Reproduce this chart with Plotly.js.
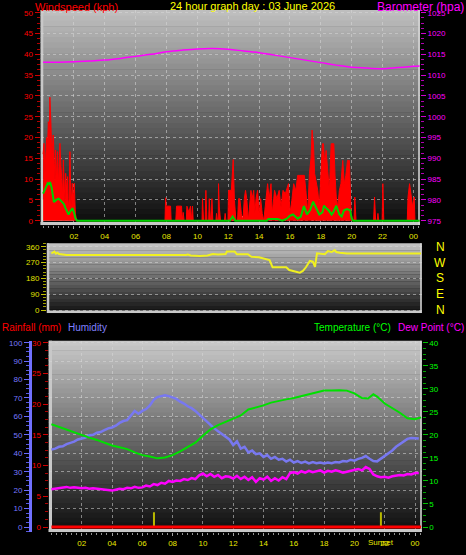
<!DOCTYPE html>
<html><head><meta charset="utf-8">
<script src="https://cdn.plot.ly/plotly-3.0.1.min.js"></script>
<style>html,body{margin:0;padding:0;background:#000;}#chart{width:466px;height:555px;}</style>
</head><body><div id="chart"></div>
<script>
// ---------- DATA ----------
const tickHours = [2,4,6,8,10,12,14,16,18,20,22,24];
const tickLabels = ['02','04','06','08','10','12','14','16','18','20','22','00'];

// Gust (kph)
const gustH = [0.0,0.06,0.12,0.18,0.23,0.29,0.34,0.40,0.44,0.51,0.56,0.60,0.66,0.73,0.77,0.81,0.88,0.94,0.98,1.03,1.09,1.16,1.22,1.27,1.31,1.37,1.42,1.46,1.52,1.59,1.63,1.68,1.74,1.81,1.89,1.96,2.02,2.09,2.17,
 7.90,7.94,7.98,8.26,8.30,8.60,8.65,8.97,9.02,9.08,9.14,9.28,9.32,9.45,9.55,9.62,9.68,9.73,
 10.30,10.33,10.40,10.50,10.55,10.62,10.73,10.77,10.85,10.90,10.94,11.0,11.2,11.24,11.3,11.35,11.37,11.42,11.5,11.75,11.8,11.85,11.98,
 12.02,12.1,12.2,12.32,12.4,12.5,12.6,12.67,12.75,12.85,12.95,13.04,13.12,13.2,13.3,13.47,13.55,13.65,13.72,13.8,13.9,14.0,14.1,14.2,14.3,
 14.55,14.65,14.77,14.85,15.0,15.15,15.3,15.42,15.55,15.7,15.9,16.0,16.12,16.24,16.38,16.5,16.6,16.7,16.8,16.93,17.03,17.15,17.26,17.37,17.43,17.52,17.6,17.7,17.8,17.9,
 18.0,18.1,18.17,18.25,18.34,18.45,18.55,18.67,18.77,18.84,18.92,19.0,19.1,19.2,19.3,19.42,19.52,19.62,19.73,19.85,19.96,20.07,20.15,20.2,20.28,
 21.42,21.48,21.55,21.65,21.7,21.75,21.97,22.02,22.08,23.6,23.65,23.75,23.85,23.95,24.05,24.1,24.4];
const gustV = [16,18.6,11.4,17,20,18,23.8,20,29.7,23,15,17.8,20.6,13.8,9,17,9.8,16.6,8,13,18.6,13,9.8,6,14.6,7.4,4,11.4,7.4,10.6,3,5,16.6,3.4,9,5,9,1.8,0,
 0,5.5,3.5,3.5,0,0,3.5,3.5,0,2,0,0,3.5,2,3.5,0,3.5,0,
 0,5.3,0,0,7.3,0,0,5.3,0,0,5.3,0,0,1.75,0,0,8.9,3.3,0,0,1.75,0,0,
 7.3,7.3,7.3,14.7,4.9,0,0,5.3,5.3,1.75,0,5.3,7.3,5.3,0,7.3,5.3,7.3,1.75,5.3,7.3,1.75,5.3,1.75,0,
 8.9,5.3,8.9,1.75,7.3,5.3,7.3,3.3,7.3,6.5,8.9,1.75,4.9,8.9,7.3,10.9,10.9,10.9,10.9,10.9,7.3,1.75,11.3,15.3,21.8,18.5,11.3,9.7,7.3,3.3,
 9.7,18.5,18.5,13.7,16.9,10.9,7.3,18.5,18.5,18.5,10.9,5.7,3.3,7.3,8.9,14.5,8.9,10.9,14.5,14.5,1.75,0,0,5.7,0,
 0,5.7,0,0,1.75,0,0,8.9,0,0,5.7,8.9,5.7,3.3,5.7,0,0];

// Average wind speed (kph)
const avgH = [0,0.1,0.2,0.3,0.4,0.45,0.55,0.62,0.7,0.85,1.0,1.1,1.2,1.35,1.45,1.55,1.65,1.75,1.9,2.0,2.1,2.2,12.1,12.28,12.45,14.5,14.6,15.2,15.5,15.8,16.0,16.2,16.5,16.7,16.9,17.1,17.3,17.5,17.7,17.9,18.1,18.2,18.35,18.5,18.7,18.8,19.0,19.2,19.35,19.5,19.7,19.9,20.0,20.1,24.4];
const avgV = [6.5,7.5,8.5,9.0,8.8,9.3,8.0,6.0,4.5,5.0,5.3,5.0,4.6,4.0,3.0,2.0,1.5,2.2,3.0,2.0,0.5,0,0,1.0,0,0,0.4,0.4,0,0.5,1.2,1.5,0.5,1.0,3.5,1.5,2.5,4.6,3.0,1.5,2.0,3.6,3.0,2.5,1.5,2.0,3.6,1.5,1.0,2.5,2.8,2.5,0.5,0,0];

// Wind speed (kph) bars
const wsH = [0,0.083,0.167,0.25,0.333,0.417,0.5,0.583,0.667,0.75,0.833,0.917,1.0,1.083,1.167,1.25,1.333,1.417,1.5,1.583,1.667,1.75,1.833,1.917,12.28,12.9,14.0,15.7,16.5,16.78,17.47,17.7,18.17,18.45,18.9,19.2,19.65];
const wsV = [5,5,5,5,5,5,5,3.2,3.2,5,3.2,3.2,3.2,3.2,1.6,3.2,1.6,1.6,1.6,1.6,3.2,1.6,1.6,1.6,1.1,1.1,1.1,1.1,2.9,4.8,2.9,1.1,4.8,2.9,2.9,1.1,1.1];

// Barometer (hPa)
const baroH = [0,1,2,3,4,5,6,7,8,9,10,11,12,13,14,15,16,17,18,19,20,21,22,23,24,24.4];
const baroV = [1013.1,1013.1,1013.2,1013.4,1013.6,1014.0,1014.5,1015.0,1015.6,1016.0,1016.3,1016.4,1016.2,1015.8,1015.4,1014.8,1014.2,1013.6,1013.0,1012.4,1011.9,1011.7,1011.5,1011.8,1012.1,1012.2];

// Wind direction (deg)
const dirH = [0.0,0.1,0.2,0.3,0.4,0.5,0.7,1.0,8.9,9.0,9.2,9.8,10.3,10.65,11.0,11.5,11.58,12.1,12.24,12.97,13.2,13.7,14.4,14.6,15.5,15.7,16.4,16.6,16.8,17.06,17.26,17.4,17.53,18.05,18.25,18.5,18.7,18.8,19.04,19.5,24.4];
const dirV = [322,326,332,320,326,318,315,313,313,315,310,307,310,318,316,318,332,332,317,317,303,300,284,243,243,227,212,222,243,279,275,246,322,317,335,330,341,330,326,322,322];

// Humidity (%) every 15 min
const humH = [0,0.25,0.5,0.75,1,1.25,1.5,1.75,2,2.25,2.5,2.75,3,3.25,3.5,3.75,4,4.25,4.5,4.75,5,5.25,5.5,5.75,6,6.25,6.5,6.75,7,7.25,7.5,7.75,8,8.25,8.5,8.75,9,9.25,9.5,9.75,10,10.25,10.5,10.75,11,11.25,11.5,11.75,12,12.25,12.5,12.75,13,13.25,13.5,13.75,14,14.25,14.5,14.75,15,15.25,15.5,15.75,16,16.25,16.5,16.75,17,17.25,17.5,17.75,18,18.25,18.5,18.75,19,19.25,19.5,19.75,20,20.25,20.5,20.75,21,21.25,21.5,21.75,22,22.25,22.5,22.75,23,23.25,23.5,23.75,24,24.25];
const humV = [42,42.5,43.5,43.8,45,45.5,46.3,47.5,48,48.5,49.8,50,51.2,51.5,52.5,53.5,54,55,56.5,57.5,58,60.5,63,61.5,63,64,66,69,70.5,71,71.5,71,70.2,69.5,68,67,65.5,64.5,63,61,59,57,55.5,53.5,52,50.5,48.5,47.5,44.5,46.5,42.5,43.5,40.5,41.5,39.5,40,38,39,37,38,36.5,37,35.5,36.5,35,35.8,34.8,35.5,34.5,35.2,34.6,35,34.5,35,34.6,35.2,35,35.8,35.5,36.5,36,37,37.5,38.5,37,35.8,35.6,37,38.5,40,41.5,43.5,45,46.5,47.8,48.3,48,48];

// Temperature (°C)
const tempH = [0,0.5,1,1.5,2,2.5,3,3.5,4,4.5,5,5.5,6,6.5,7,7.5,8,8.5,9,9.5,10,10.5,11,11.5,12,12.5,13,13.5,14,14.5,15,15.5,16,16.5,17,17.5,18,18.5,19,19.5,20,20.5,20.9,21.25,21.5,22,22.5,23,23.5,24,24.4];
const tempV = [22.3,21.7,21.1,20.6,20.0,19.4,18.9,18.3,17.7,17.3,16.9,16.2,15.6,15.3,14.9,15.1,15.6,16.4,17.4,18.3,19.8,21.2,22.1,22.8,23.5,24.2,25.5,25.9,26.4,27.0,27.4,27.7,28.0,28.4,28.9,29.3,29.6,29.6,29.7,29.6,29.0,28.0,27.9,28.8,28.3,26.8,25.8,24.8,23.6,23.4,23.8];

// Dew point (°C) every 15 min
const dewV = [8.2,8.3,8.5,8.6,8.7,8.5,8.6,8.5,8.4,8.5,8.3,8.4,8.3,8.2,8.1,8.0,7.9,8.1,8.3,8.2,8.5,8.4,8.7,8.5,8.6,9.0,8.8,9.3,9.1,9.6,9.4,10.0,9.8,10.1,10.0,10.4,10.2,10.6,10.4,11.2,11.6,11.0,11.5,10.9,11.3,10.6,11.0,10.9,10.5,11.1,10.4,10.9,10.2,10.8,9.8,10.6,10.3,10.9,10.0,10.6,10.1,10.8,10.4,11.7,11.9,11.6,12.1,11.8,12.2,11.9,12.1,12.3,11.8,12.2,12.0,12.3,12.1,11.8,12.0,12.2,12.4,12.6,12.3,13.0,12.6,11.4,11.0,10.8,10.9,10.7,11.0,11.1,11.3,11.2,11.5,11.4,11.7,11.7];

// Rainfall (mm) hourly
const rainH = [0,1,2,3,4,5,6,7,8,9,10,11,12,13,14,15,16,17,18,19,20,21,22,23,24,24.4];
const rainV = [0,0,0,0,0,0,0,0,0,0,0,0,0,0,0,0,0,0,0,0,0,0,0,0,0,0];

// Sunrise / sunset markers (hours)
const sunH = [6.77, 21.75];
const sunMarkHeight = 8;

const dirTickVals = [0,90,180,270,360];
const dirTickText = ['N','E','S','W','N'];

// ---------- LAYOUT HELPERS ----------
const W = 466, H = 555;
const px = v => v / W;
const py = v => 1 - v / H;
const FONT = 'Liberation Sans, Arial, sans-serif';

function gradient(xref, yref, top, bottom, n) {
  const out = [];
  for (let k = 0; k < n; k++) {
    const t = k / (n - 1);
    const g = Math.round(top + (bottom - top) * t);
    out.push({type:'rect', xref, yref, x0:0, x1:1, y0:1-(k+1)/n-0.003, y1:1-k/n,
      fillcolor:`rgb(${g},${g},${g})`, line:{width:0}, layer:'below'});
  }
  return out;
}
function bevel(x0,y0,x1,y1,w,c) {
  return {type:'line', xref:'paper', yref:'paper', x0:px(x0), y0:py(y0), x1:px(x1), y1:py(y1),
    line:{color:c||'#c8c8c8', width:w}, layer:'below'};
}

const gridC = 'rgba(215,215,215,0.55)';
const minorX = {tickmode:'linear', tick0:0, dtick:1/3, ticklen:2, tickcolor:'#909090', ticks:'outside'};

const topX0 = 43.1, topPPH = 15.43;
const botX0 = 51.4, botPPH = 15.15;
const dirRange = [-(313-310)/0.17583, (310-243.3)/0.17583];

const shapes = [
  ...gradient('x domain','y domain',190,12,40),
  ...gradient('x2 domain','y3 domain',195,20,20),
  ...gradient('x3 domain','y5 domain',200,14,40),
  bevel(42,10,42,225,2.5), bevel(40.5,223.5,420,223.5,3), bevel(419,10,419,225,1.5,'#d8d8d8'),
  bevel(48,243.3,48,313,2.5), bevel(47,311.8,421.7,311.8,2.5), bevel(421,243.3,421,313,1.5,'#d8d8d8'),
  bevel(50.5,340.7,50.5,532,3), bevel(48.5,530.5,421.7,530.5,3), bevel(421,340.7,421,532,1.5,'#d8d8d8')
];

const traces = [
  {x:gustH, y:gustV, xaxis:'x', yaxis:'y', type:'scatter', mode:'lines', fill:'tozeroy',
   fillcolor:'#ff0000', line:{color:'#ff0000', width:1}, hoverinfo:'skip'},
  {x:wsH, y:wsV, xaxis:'x', yaxis:'y', type:'bar', width:0.11,
   marker:{color:'#d4f0d4', line:{width:0}}, hoverinfo:'skip'},
  {x:avgH, y:avgV, xaxis:'x', yaxis:'y', type:'scatter', mode:'lines',
   line:{color:'#00d000', width:2}, hoverinfo:'skip'},
  {x:baroH, y:baroV, xaxis:'x', yaxis:'y2', type:'scatter', mode:'lines',
   line:{color:'#ff00ff', width:1.5, shape:'spline'}, hoverinfo:'skip'},
  {x:dirH, y:dirV, xaxis:'x2', yaxis:'y3', type:'scatter', mode:'lines',
   line:{color:'#f0f020', width:2}, hoverinfo:'skip'},
  {x:[sunH[0],sunH[0],null,sunH[1],sunH[1]], y:[0,sunMarkHeight,null,0,sunMarkHeight], xaxis:'x3', yaxis:'y5',
   type:'scatter', mode:'lines', line:{color:'#b8b800', width:2}, hoverinfo:'skip'},
  {x:humH, y:humV, xaxis:'x3', yaxis:'y7', type:'scatter', mode:'lines',
   line:{color:'#7878f0', width:2.5}, hoverinfo:'skip'},
  {x:tempH, y:tempV, xaxis:'x3', yaxis:'y8', type:'scatter', mode:'lines',
   line:{color:'#00e000', width:2}, hoverinfo:'skip'},
  {x:humH, y:dewV, xaxis:'x3', yaxis:'y8', type:'scatter', mode:'lines',
   line:{color:'#ff00ff', width:2.5}, hoverinfo:'skip'},
  {x:rainH, y:rainV, xaxis:'x3', yaxis:'y6', type:'scatter', mode:'lines',
   line:{color:'#ff0000', width:3}, hoverinfo:'skip'}
];

const tf = (c, s) => ({color:c, size:s||8, family:FONT});
const lbl = (text, x, y, anchor, color, size) => ({text, xref:'paper', yref:'paper', x:px(x), y:py(y),
  xanchor:anchor, yanchor:'middle', showarrow:false, font:{color, size, family:FONT}});

const dirLetters = dirTickVals.map((v, i) => ({text:dirTickText[i], xref:'paper', yref:'y3', x:px(440), y:v,
  xanchor:'center', yanchor:'middle', showarrow:false, font:{color:'#ffff00', size:12, family:FONT}}));

const layout = {
  width: W, height: H, margin:{l:0,r:0,t:0,b:0},
  paper_bgcolor:'#000', plot_bgcolor:'#000', showlegend:false, barmode:'overlay',
  font:{family:FONT},
  xaxis:{domain:[px(40.5),px(420)], range:[(40.5-topX0)/topPPH,(420-topX0)/topPPH], anchor:'y',
    tickmode:'array', tickvals:tickHours, ticktext:tickLabels, tickfont:tf('#e8e800'),
    ticks:'outside', ticklen:3, tickcolor:'#a0a0a0', minor:minorX,
    showgrid:true, gridcolor:gridC, griddash:'dot', zeroline:false, showline:false},
  yaxis:{domain:[py(225),py(10)], range:[(220.7-225)/4.16,(220.7-10)/4.16], anchor:'x',
    tickmode:'linear', tick0:0, dtick:5, tickfont:tf('#ff0000'), ticks:'outside', ticklen:5, tickcolor:'#d00000',
    minor:{tickmode:'linear', tick0:0, dtick:1.25, ticklen:3, tickcolor:'#b00000', ticks:'outside'},
    showgrid:true, gridcolor:gridC, griddash:'dot', zeroline:false},
  yaxis2:{overlaying:'y', side:'right', anchor:'x', range:[975+(220.7-225)/4.16, 975+(220.7-10)/4.16],
    tickmode:'linear', tick0:975, dtick:5, tickfont:tf('#ff00ff'), ticks:'outside', ticklen:5, tickcolor:'#d000d0',
    minor:{tickmode:'linear', tick0:975, dtick:1.25, ticklen:3, tickcolor:'#b000b0', ticks:'outside'},
    showgrid:false, zeroline:false},
  xaxis2:{domain:[px(47),px(421.7)], range:[(47-botX0)/botPPH,(421.7-botX0)/botPPH], anchor:'y3',
    showticklabels:false, ticks:'', showgrid:false, zeroline:false},
  yaxis3:{domain:[py(313),py(243.3)], range:dirRange, anchor:'x2',
    tickmode:'linear', tick0:0, dtick:90, tickfont:tf('#e0e000'), ticks:'outside', ticklen:5, tickcolor:'#c0c000',
    minor:{tickmode:'linear', tick0:0, dtick:18, ticklen:3, tickcolor:'#a0a000', ticks:'outside'},
    showgrid:true, gridcolor:gridC, griddash:'dot', zeroline:false},
  xaxis3:{domain:[px(48.5),px(421.7)], range:[(48.5-botX0)/botPPH,(421.7-botX0)/botPPH], anchor:'y5',
    tickmode:'array', tickvals:tickHours, ticktext:tickLabels, tickfont:tf('#e8e800'),
    ticks:'outside', ticklen:3, tickcolor:'#a0a0a0', minor:minorX,
    showgrid:true, gridcolor:gridC, griddash:'dot', zeroline:false},
  yaxis5:{domain:[py(532),py(340.7)], range:[-(532-527)/1.843,(527-340.7)/1.843], anchor:'x3',
    tickmode:'linear', tick0:0, dtick:10, showticklabels:false, ticks:'',
    showgrid:true, gridcolor:gridC, griddash:'dot', zeroline:false},
  yaxis6:{overlaying:'y5', side:'left', anchor:'x3', range:[-0.3*(532-527)/1.843, 0.3*(527-340.7)/1.843],
    tickmode:'linear', tick0:0, dtick:5, tickfont:tf('#ff0000'), ticks:'outside', ticklen:5, tickcolor:'#d00000',
    minor:{tickmode:'linear', tick0:0, dtick:1.25, ticklen:3, tickcolor:'#b00000', ticks:'outside'},
    showgrid:false, zeroline:false},
  yaxis7:{overlaying:'y5', side:'left', anchor:'free', position:px(30), range:[-(532-527)/1.843,(527-340.7)/1.843],
    tickmode:'linear', tick0:0, dtick:10, tickfont:tf('#7878ff'), ticks:'outside', ticklen:5, tickcolor:'#6a6aff',
    minor:{tickmode:'linear', tick0:0, dtick:2.5, ticklen:3, tickcolor:'#5a5ae0', ticks:'outside'},
    showline:true, linecolor:'#7070ff', linewidth:2.5, showgrid:false, zeroline:false},
  yaxis8:{overlaying:'y5', side:'right', anchor:'x3', range:[-0.4*(532-527)/1.843, 0.4*(527-340.7)/1.843],
    tickmode:'linear', tick0:0, dtick:5, tickfont:tf('#00ff00'), ticks:'outside', ticklen:5, tickcolor:'#00c000',
    minor:{tickmode:'linear', tick0:0, dtick:1.25, ticklen:3, tickcolor:'#00a000', ticks:'outside'},
    showgrid:false, zeroline:false},
  shapes: shapes,
  annotations:[
    lbl('Windspeed (kph)', 33, 7, 'left', '#ff0000', 11),
    lbl('24 hour graph day : 03 June 2026', 252, 6, 'center', '#ffff00', 11),
    lbl('Barometer (hpa)', 466, 7, 'right', '#ff00ff', 12),
    lbl('Rainfall (mm)', 0, 327, 'left', '#ff0000', 10),
    lbl('Humidity', 66, 327, 'left', '#8080ff', 10),
    lbl('Temperature (°C)', 312, 327, 'left', '#00ff00', 10),
    lbl('Dew Point (°C)', 466, 327, 'right', '#ff00ff', 10),
    ...dirLetters,
    {text:'Sunset', xref:'x3', yref:'paper', x:sunH[1], y:py(542), xanchor:'center', yanchor:'middle', showarrow:false, font:{color:'#e8e800', size:8, family:FONT}}
  ]
};

Plotly.newPlot('chart', traces, layout, {staticPlot:true, displayModeBar:false});
</script></body></html>
